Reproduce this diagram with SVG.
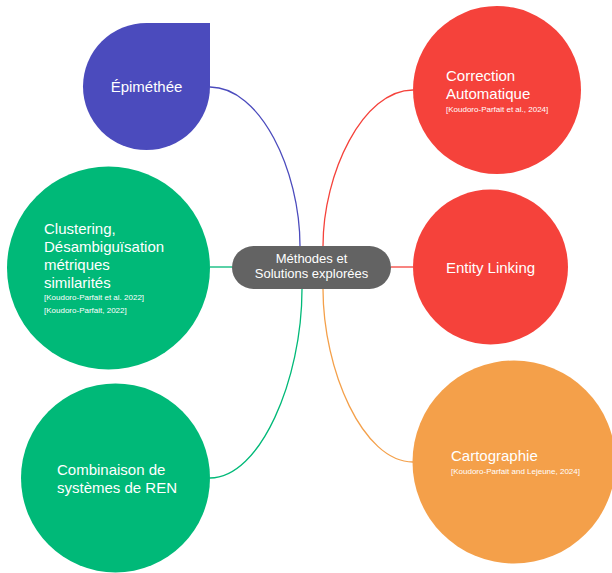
<svg xmlns="http://www.w3.org/2000/svg" width="612" height="573" viewBox="0 0 612 573">
<style>
.t{font-family:"Liberation Sans",Arial,sans-serif;fill:#ffffff;font-size:15px;}
.r{font-family:"Liberation Sans",Arial,sans-serif;fill:#ffffff;font-size:8px;}
.c{font-family:"Liberation Sans",Arial,sans-serif;fill:#ffffff;font-size:13px;}
.ln{fill:none;stroke-width:1.3;}
</style>
<rect width="612" height="573" fill="#ffffff"/>
<g id="connectors">
<path class="ln" stroke="#4b4bbd" d="M210 87 C260 87 300 170 300 246"/>
<path class="ln" stroke="#00b978" d="M210 267 L233 267"/>
<path class="ln" stroke="#00b978" d="M302 289 C302 380 260 478 210 478"/>
<path class="ln" stroke="#f5423b" d="M413 90 C363 90 323 173 323 246"/>
<path class="ln" stroke="#f5423b" d="M391 267 L413 267"/>
<path class="ln" stroke="#f4a04a" d="M323 289 C323 370 363 462 413 462"/>
</g>
<g id="epimethee">
<path d="M210 23 L210 86.5 A63.5 63.5 0 1 1 146.5 23 Z" fill="#4b4bbd"/>
<text class="t" x="146.5" y="92" text-anchor="middle">Épiméthée</text>
</g>
<g id="clustering">
<circle cx="108.5" cy="268" r="101.5" fill="#00b978"/>
<text class="t" x="44" y="234">Clustering,</text>
<text class="t" x="44" y="252">Désambiguïsation</text>
<text class="t" x="44" y="270">métriques</text>
<text class="t" x="44" y="288">similarités</text>
<text class="r" x="44" y="300">[Koudoro-Parfait et al. 2022]</text>
<text class="r" x="44" y="313">[Koudoro-Parfait, 2022]</text>
</g>
<g id="combinaison">
<circle cx="115.5" cy="478" r="94.5" fill="#00b978"/>
<text class="t" x="57" y="475">Combinaison de</text>
<text class="t" x="57" y="493">systèmes de REN</text>
</g>
<g id="center">
<rect x="232" y="246" width="159" height="43" rx="21.5" fill="#636363"/>
<text class="c" x="311.5" y="263" text-anchor="middle">Méthodes et</text>
<text class="c" x="311.5" y="278" text-anchor="middle">Solutions explorées</text>
</g>
<g id="correction">
<circle cx="497" cy="90" r="84" fill="#f5423b"/>
<text class="t" x="446" y="81">Correction</text>
<text class="t" x="446" y="99">Automatique</text>
<text class="r" x="446" y="112">[Koudoro-Parfait et al., 2024]</text>
</g>
<g id="entity">
<circle cx="490.5" cy="267" r="77.5" fill="#f5423b"/>
<text class="t" x="490.5" y="273" text-anchor="middle">Entity Linking</text>
</g>
<g id="cartographie">
<circle cx="514" cy="462" r="101.5" fill="#f4a04a"/>
<text class="t" x="451" y="461">Cartographie</text>
<text class="r" x="451" y="474">[Koudoro-Parfait and Lejeune, 2024]</text>
</g>
</svg>
